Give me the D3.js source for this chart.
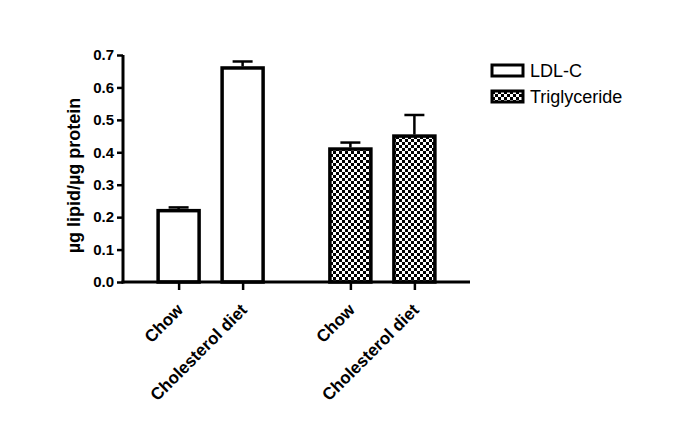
<!DOCTYPE html>
<html>
<head>
<meta charset="utf-8">
<script src="https://cdn.jsdelivr.net/npm/d3@7"></script>
<style>
  body { margin: 0; background: #fff; }
  svg { display: block; font-family: "Liberation Sans", Arial, sans-serif; }
</style>
</head>
<body>
<svg id="chart" width="685" height="445"></svg>
<script>
const series = ['LDL-C', 'Triglyceride'];
const diets = ['Chow', 'Cholesterol diet'];
const ldlValues = [0.22, 0.66];
const ldlErrors = [0.01, 0.02];
const tgValues = [0.41, 0.45];
const tgErrors = [0.02, 0.065];
const yTicks = [0, 0.1, 0.2, 0.3, 0.4, 0.5, 0.6, 0.7];

const data = [];
series.forEach((s, i) => {
  const vals = i === 0 ? ldlValues : tgValues;
  const errs = i === 0 ? ldlErrors : tgErrors;
  diets.forEach((d, j) => {
    data.push({ key: s + '|' + d, series: s, diet: d, v: vals[j], e: errs[j] });
  });
});

const margin = { top: 55, left: 123 };
const width = 347;
const height = 227;
const barWidth = 41;

const svg = d3.select('#chart');

// checker fill for the triglyceride bars
const defs = svg.append('defs');
const pat = defs.append('pattern')
  .attr('id', 'checker')
  .attr('patternUnits', 'userSpaceOnUse')
  .attr('width', 6)
  .attr('height', 6);
pat.append('rect').attr('width', 6).attr('height', 6).attr('fill', '#fff');
pat.append('rect').attr('width', 3).attr('height', 3).attr('fill', '#000');
pat.append('rect').attr('x', 3).attr('y', 3).attr('width', 3).attr('height', 3).attr('fill', '#000');

const fillFor = s => (s === 'LDL-C' ? '#fff' : 'url(#checker)');

const chart = svg.append('g')
  .attr('transform', `translate(${margin.left}, ${margin.top})`);

const x0 = d3.scalePoint()
  .domain(series)
  .range([0, width])
  .padding(0.51);
const x1 = d3.scalePoint()
  .domain(diets)
  .range([-32, 32]);
const xPos = d => x0(d.series) + x1(d.diet);

const y = d3.scaleLinear()
  .domain([0, 0.7])
  .range([height, 0]);

// bars
chart.selectAll('rect.bar')
  .data(data)
  .enter()
  .append('rect')
  .attr('class', 'bar')
  .attr('x', d => xPos(d) - barWidth / 2)
  .attr('y', d => y(d.v))
  .attr('width', barWidth)
  .attr('height', d => height - y(d.v))
  .attr('fill', d => fillFor(d.series))
  .attr('stroke', '#000')
  .attr('stroke-width', 3.5);

// error bars (upper only)
const err = chart.selectAll('g.err')
  .data(data)
  .enter()
  .append('g')
  .attr('class', 'err')
  .attr('stroke', '#000')
  .attr('stroke-width', 2.5);
err.append('line')
  .attr('x1', d => xPos(d)).attr('x2', d => xPos(d))
  .attr('y1', d => y(d.v) - 1.5).attr('y2', d => y(d.v + d.e));
err.append('line')
  .attr('x1', d => xPos(d) - 10).attr('x2', d => xPos(d) + 10)
  .attr('y1', d => y(d.v + d.e)).attr('y2', d => y(d.v + d.e));

// y axis
const yAxis = d3.axisLeft(y)
  .tickValues(yTicks)
  .tickFormat(d3.format('.1f'))
  .tickSize(6)
  .tickSizeOuter(0)
  .tickPadding(3);
const gy = chart.append('g').call(yAxis);
gy.select('.domain').attr('stroke-width', 3).attr('d', `M0,${height + 1.5}V0`);
gy.selectAll('.tick line').attr('stroke-width', 2.5);
gy.selectAll('.tick text')
  .attr('font-size', 15)
  .attr('font-weight', 'bold')
  .attr('font-family', '"Liberation Sans", Arial, sans-serif')
  .attr('fill', '#000');

// x axis: ordinal scale over every bar position
const xTick = d3.scaleOrdinal()
  .domain(data.map(d => d.key))
  .range(data.map(xPos));
const xAxis = d3.axisBottom(xTick)
  .tickSize(8)
  .tickFormat(k => k.split('|')[1]);
const gx = chart.append('g')
  .attr('transform', `translate(0, ${height})`)
  .call(xAxis);
gx.select('.domain').remove();
gx.append('line')
  .attr('x1', -1.5).attr('x2', width)
  .attr('stroke', '#000')
  .attr('stroke-width', 3);
gx.selectAll('.tick line').attr('stroke-width', 2.5);
gx.selectAll('.tick text')
  .attr('font-size', 17)
  .attr('font-weight', 'bold')
  .attr('font-family', '"Liberation Sans", Arial, sans-serif')
  .attr('fill', '#000')
  .attr('text-anchor', 'end')
  .attr('dy', null)
  .attr('y', 0)
  .attr('transform', 'translate(5, 29) rotate(-45)');

// y axis title
svg.append('text')
  .attr('transform', `translate(80, ${margin.top + height / 2 + 7}) rotate(-90)`)
  .attr('text-anchor', 'middle')
  .attr('font-size', 18)
  .attr('font-weight', 'bold')
  .text('\u00b5g lipid/\u00b5g protein');

// legend
const legend = svg.append('g')
  .attr('transform', 'translate(492, 65)');
const items = legend.selectAll('g')
  .data(series)
  .enter()
  .append('g')
  .attr('transform', (d, i) => `translate(0, ${i * 26})`);
items.append('rect')
  .attr('width', 31)
  .attr('height', 11)
  .attr('fill', d => fillFor(d))
  .attr('stroke', '#000')
  .attr('stroke-width', 3);
items.append('text')
  .attr('x', 38)
  .attr('y', 12)
  .attr('font-size', 18)
  .text(d => d);
</script>
</body>
</html>
